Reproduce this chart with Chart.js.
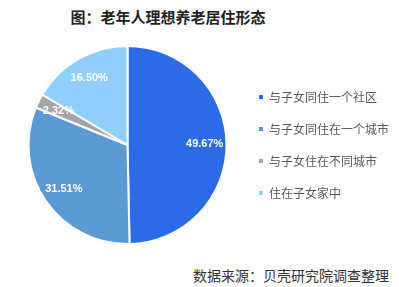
<!DOCTYPE html>
<html>
<head>
<meta charset="utf-8">
<script src="https://cdn.jsdelivr.net/npm/chart.js@4/dist/chart.umd.min.js"></script>
<style>
  html, body { margin: 0; padding: 0; background: #fff; }
  body { width: 399px; height: 287px; position: relative; overflow: hidden; font-family: "Noto Sans CJK SC", sans-serif; }
  #title { position: absolute; left: 0; width: 336px; top: 6px; text-align: center; font-size: 15px; font-weight: bold; color: #222; }
  #source { position: absolute; right: 10px; top: 265px; font-size: 14px; color: #333; }
  #wrap { position: absolute; left: 0; top: 40px; width: 399px; height: 210px; }
</style>
</head>
<body>
<div id="title">图：老年人理想养老居住形态</div>
<div id="wrap"><canvas id="chart"></canvas></div>
<div id="source">数据来源：贝壳研究院调查整理</div>
<script>
const labels = ['与子女同住一个社区', '与子女同住在一个城市', '与子女住在不同城市', '住在子女家中'];
const values = [49.67, 31.51, 2.32, 16.50];
const colors = ['#2B6BE8', '#5B9BD5', '#A5A5A5', '#8FCFFF'];

// percentage labels inside each slice
const sliceLabels = {
  id: 'sliceLabels',
  afterDatasetsDraw(chart) {
    const ctx = chart.ctx;
    const meta = chart.getDatasetMeta(0);
    ctx.save();
    ctx.fillStyle = '#fff';
    ctx.font = 'bold 11px "Liberation Sans", Arial, sans-serif';
    ctx.textAlign = 'center';
    ctx.textBaseline = 'middle';
    meta.data.forEach((arc, i) => {
      const p = arc.getProps(['x', 'y', 'startAngle', 'endAngle', 'outerRadius'], true);
      const mid = (p.startAngle + p.endAngle) / 2;
      const r = p.outerRadius * 0.78;
      ctx.fillText(values[i].toFixed(2) + '%', p.x + Math.cos(mid) * r, p.y + Math.sin(mid) * r);
    });
    ctx.restore();
  }
};

new Chart(document.getElementById('chart'), {
  type: 'pie',
  data: {
    labels: labels,
    datasets: [{ data: values, backgroundColor: colors, borderColor: '#fff', borderWidth: 2 }]
  },
  options: {
    responsive: true,
    maintainAspectRatio: false,
    animation: false,
    layout: { padding: { top: 5, bottom: 5, left: 16, right: 0 } },
    plugins: {
      tooltip: { enabled: false },
      legend: {
        position: 'right',
        labels: {
          boxWidth: 4,
          boxHeight: 4,
          padding: 20,
          color: '#595959',
          font: { size: 12, family: '"Noto Sans CJK SC", sans-serif' },
          generateLabels(chart) {
            const items = Chart.overrides.pie.plugins.legend.labels.generateLabels(chart);
            items.forEach(it => { it.lineWidth = 0; it.strokeStyle = it.fillStyle; });
            return items;
          }
        }
      }
    }
  },
  plugins: [sliceLabels]
});
</script>
</body>
</html>
